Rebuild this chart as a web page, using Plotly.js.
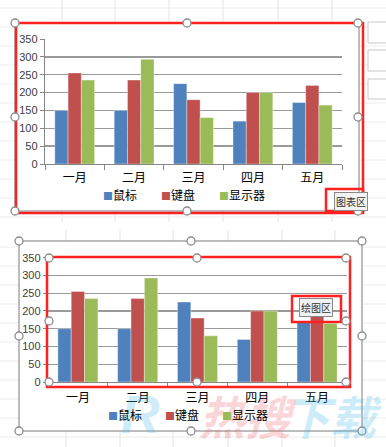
<!DOCTYPE html>
<html><head><meta charset="utf-8">
<script src="https://cdn.plot.ly/plotly-3.0.1.min.js"></script>
<style>html,body{margin:0;padding:0;background:#fff;}#c{width:386px;height:447px;}</style>
</head><body><div id="c"></div>
<script>
var categories = ['一月','二月','三月','四月','五月'];
var seriesNames = ['鼠标','键盘','显示器'];
var mouse = [150, 150, 225, 120, 172];
var keyboard = [255, 235, 180, 200, 220];
var monitor = [235, 293, 130, 200, 165];
var yTicks = [0,50,100,150,200,250,300,350];
var colors = ['#4F81BD','#C0504D','#9BBB59'];
var values = [mouse, keyboard, monitor];

var W = 386, H = 447;
function px(x){return x/W;}
function py(y){return 1 - y/H;}

var traces = [];
[['x','y'],['x2','y2']].forEach(function(ax){
  for (var i=0;i<3;i++){
    traces.push({type:'bar', x:categories, y:values[i], name:seriesNames[i],
      xaxis:ax[0], yaxis:ax[1], showlegend:false,
      marker:{color:colors[i], line:{color:'rgba(255,255,255,0.45)', width:0.8}}});
  }
});

var shapes = [];
function line(x0,y0,x1,y1,c,w,layer){shapes.push({type:'line',xref:'paper',yref:'paper',x0:px(x0),y0:py(y0),x1:px(x1),y1:py(y1),line:{color:c,width:w},layer:layer||'below'});}
function rect(x0,y0,x1,y1,c,w,fill,layer){shapes.push({type:'rect',xref:'paper',yref:'paper',x0:px(x0),y0:py(y0),x1:px(x1),y1:py(y1),line:{color:c,width:w},fillcolor:fill||'rgba(0,0,0,0)',layer:layer||'above'});}
function circ(cx,cy){var r=4;shapes.push({type:'circle',xref:'paper',yref:'paper',x0:px(cx-r),y0:py(cy+r),x1:px(cx+r),y1:py(cy-r),line:{color:'#8c8c8c',width:1.3},fillcolor:'#ffffff',layer:'above'});}

// spreadsheet grid background
[62,115,169,223,278,332].forEach(function(x){line(x,0,x,222,'#e3e3e3',1);});
[66,120,173,228,282,335].forEach(function(x){line(x,230,x,447,'#e3e3e3',1);});
for (var y=8;y<222;y+=19) line(0,y,386,y,'#ececec',1);
for (var y2=247;y2<447;y2+=19) line(0,y2,386,y2,'#ececec',1);
// white chart areas
shapes.push({type:'rect',xref:'paper',yref:'paper',x0:px(15),y0:py(211),x1:px(359),y1:py(23),line:{width:0},fillcolor:'#ffffff',layer:'below'});
shapes.push({type:'rect',xref:'paper',yref:'paper',x0:px(19),y0:py(431),x1:px(362),y1:py(241),line:{width:0},fillcolor:'#ffffff',layer:'below'});
// excel side buttons
rect(368,22,392,43,'#c8c8c8',1,'#ffffff','below');
rect(368,50,392,71,'#c8c8c8',1,'#ffffff','below');
rect(368,79,392,99,'#c8c8c8',1,'#ffffff','below');

// chart borders
rect(15,23,359,211,'#a6a6a6',1.5);
rect(19,241,362,431,'#a6a6a6',1.5);
// red highlight boxes
rect(16,23,363,213,'#FF2020',2.5);
rect(326,189,363,211,'#FF2020',2.5);
rect(47,257,350,387,'#FF2020',2.5);
rect(292,296,341,322,'#FF2020',2.5);
// handles
[[15,23],[187,23],[358,23],[15,117],[358,117],[15,211],[187,211],[358,211],
 [19,241],[191,241],[362,241],[19,336],[362,336],[19,431],[191,431],[362,431],
 [49,258],[197,258],[346,258],[49,321],[346,321],[49,382],[197,382],[346,382]].forEach(function(p){circ(p[0],p[1]);});

var cjk = '"Noto Sans CJK SC", "Noto Sans", sans-serif';
function ann(text,x,y,font,extra){var a={text:text,x:px(x),y:py(y),xref:'paper',yref:'paper',xanchor:'center',yanchor:'middle',showarrow:false,font:font};
  if(extra){for(var k in extra)a[k]=extra[k];} return a;}
var annotations = [
  ann('<i><b>R</b></i>',140,414,{family:'Liberation Sans', size:54, color:'rgba(80,190,235,0.28)'}),
  ann('<i><b>热搜</b></i>',248,415,{family:cjk, size:46, color:'rgba(240,110,120,0.28)'}),
  ann('<i><b>下载</b></i>',333,415,{family:cjk, size:46, color:'rgba(80,190,235,0.28)'}),
  ann('图表区',351,202,{family:cjk, size:10, color:'#333'},{bgcolor:'#f2f2f2', bordercolor:'#8a8a8a', borderwidth:1, borderpad:1}),
  ann('绘图区',316,307,{family:cjk, size:10, color:'#333'},{bgcolor:'#f2f2f2', bordercolor:'#8a8a8a', borderwidth:1, borderpad:1})
];
// legends (one per chart)
var legTop = [102,160,218], legBot = [107,164,221];
[[legTop,194],[legBot,414]].forEach(function(L){
  for (var i=0;i<3;i++){
    annotations.push({text:'<span style="color:'+colors[i]+';font-size:10px">■</span>'+seriesNames[i],
      x:px(L[0][i]-1), y:py(L[1]), xref:'paper', yref:'paper', xanchor:'left', yanchor:'middle', showarrow:false,
      font:{family:cjk, size:12, color:'#000'}});
  }
});

function xAxis(d, anchor, so){return {domain:d, anchor:anchor, type:'category', showline:true, linecolor:'#868686', linewidth:1.2,
  ticks:'outside', tickson:'boundaries', ticklen:5, tickcolor:'#868686', showgrid:false, fixedrange:true, automargin:false,
  ticklabelstandoff:so, tickfont:{family:cjk, size:12, color:'#000'}};}
function yAxis(d, anchor){return {domain:d, anchor:anchor, range:[0,350], tickvals:yTicks, ticktext:yTicks.map(String), showline:true, linecolor:'#868686', linewidth:1.2,
  ticks:'outside', ticklen:4, tickcolor:'#868686', gridcolor:'#9a9a9a', gridwidth:1.3, zeroline:false, fixedrange:true, automargin:false,
  tickfont:{family:'"Liberation Sans", Arial, sans-serif', size:11, color:'#404040'}};}

var layout = {
  width:W, height:H, margin:{l:0,r:0,t:0,b:0,autoexpand:false},
  paper_bgcolor:'#ffffff', plot_bgcolor:'rgba(0,0,0,0)',
  barmode:'group', bargap:0.33, bargroupgap:0,
  xaxis:xAxis([px(45),px(342)],'y',2),
  yaxis:yAxis([py(164),py(39)],'x'),
  xaxis2:xAxis([px(48),px(347)],'y2',4),
  yaxis2:yAxis([py(382),py(257.7)],'x2'),
  shapes:shapes, annotations:annotations, showlegend:false
};
Plotly.newPlot('c', traces, layout, {displayModeBar:false, staticPlot:true});
</script></body></html>
